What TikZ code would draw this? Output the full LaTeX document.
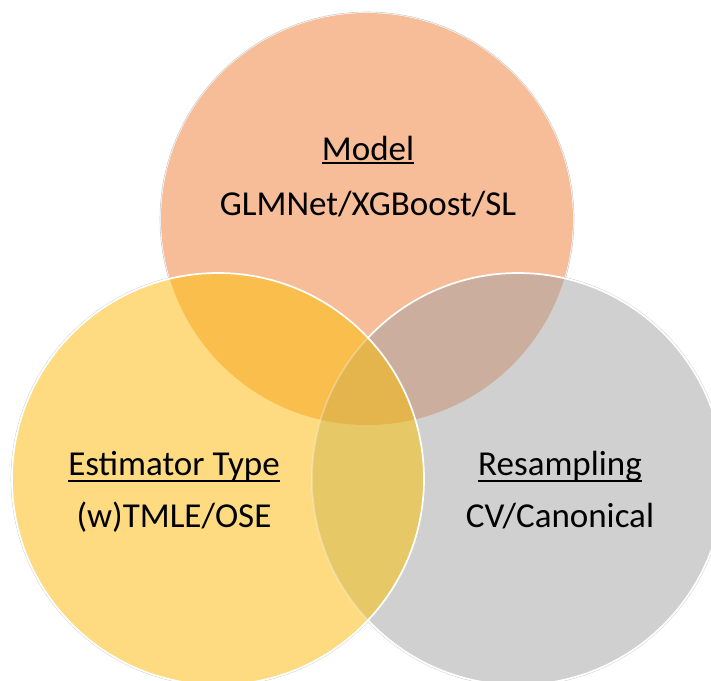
\documentclass[tikz,border=0pt]{standalone}
\usepackage{fontspec}
\setmainfont{Carlito}

% region colours of the three-set diagram
\definecolor{modelfill}{HTML}{F6BD98}
\definecolor{estfill}{HTML}{FEDB80}
\definecolor{resfill}{HTML}{D0D0D0}
\definecolor{modelest}{HTML}{F9BE4C}
\definecolor{modelres}{HTML}{CCAE9F}
\definecolor{estres}{HTML}{E6C866}
\definecolor{allthree}{HTML}{E3B54C}

% underlined heading: rule placed #1 below the baseline
\newcommand{\ulbox}[2]{\setbox0\hbox{#2}\rlap{\vrule width\wd0 height -#1 depth \dimexpr#1+2pt\relax}\box0}

\begin{document}
\begin{tikzpicture}[x=1pt,y=-1pt,
  venntext/.style={font=\fontsize{35}{40}\selectfont, anchor=base, inner sep=0pt, text=black},
  halo/.style={draw=gray!40, line width=0.6pt},
  rim/.style={draw=white, line width=1.7pt}]
\useasboundingbox (0,0) rectangle (711,680);

\coordinate (T) at (367,219);
\coordinate (L) at (218,479);
\coordinate (R) at (518,479);
\def\rad{206pt}

% faint outer edge of each circle
\draw[halo] (T) circle (207pt);
\draw[halo] (L) circle (207pt);
\draw[halo] (R) circle (207pt);

% single-set regions
\fill[modelfill] (T) circle (\rad);
\fill[estfill] (L) circle (\rad);
\fill[resfill] (R) circle (\rad);

% pairwise overlaps with the model circle
\begin{scope}
  \clip (T) circle (\rad);
  \fill[modelest] (L) circle (\rad);
  \fill[modelres] (R) circle (\rad);
\end{scope}

% estimator / resampling overlap and the common centre
\begin{scope}
  \clip (L) circle (\rad);
  \fill[estres] (R) circle (\rad);
  \clip (T) circle (\rad);
  \fill[allthree] (R) circle (\rad);
\end{scope}

% white rims: resampling rim shows fully outside the estimator circle,
% only faintly beneath it; estimator rim lies on top
\begin{scope}[even odd rule]
  \clip (-20,-20) rectangle (731,700) (L) circle (\rad);
  \draw[rim] (R) circle (\rad);
\end{scope}
\begin{scope}
  \clip (L) circle (\rad);
  \draw[rim, draw opacity=0.3] (R) circle (\rad);
\end{scope}
\draw[rim] (L) circle (\rad);

% labels
\node[venntext] (model) at (368,160) {\ulbox{2pt}{Model}};
\node[venntext] (modelopts) at (368,215) {GLMNet/XGBoost/SL};
\node[venntext] (est) at (174,475) {\ulbox{4.5pt}{Estimator Type}};
\node[venntext] (estopts) at (174,527) {(w)TMLE/OSE};
\node[venntext] (res) at (560,475) {\ulbox{4.5pt}{Resampling}};
\node[venntext] (resopts) at (560,527) {CV/Canonical};
\end{tikzpicture}
\end{document}
